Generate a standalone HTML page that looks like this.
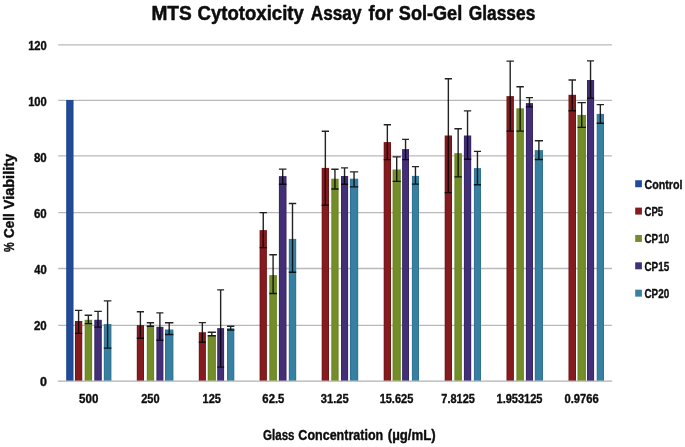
<!DOCTYPE html>
<html lang="en"><head><meta charset="utf-8"><title>MTS Cytotoxicity Assay for Sol-Gel Glasses</title>
<style>html,body{margin:0;padding:0;background:#fff;}body{width:685px;height:447px;overflow:hidden;}svg{display:block;}text{font-family:"Liberation Sans",sans-serif;font-weight:bold;fill:#0d0d0d;stroke:#0d0d0d;stroke-width:0.35px;stroke-linejoin:round;}</style></head><body>
<svg width="685" height="447" viewBox="0 0 685 447">
<rect width="685" height="447" fill="#fff"/>
<defs><linearGradient id="g0" x1="0" x2="1" y1="0" y2="0"><stop offset="0" stop-color="#1a4287"/><stop offset="0.22" stop-color="#214b97"/><stop offset="0.78" stop-color="#214b97"/><stop offset="1" stop-color="#1a4287"/></linearGradient><linearGradient id="g1" x1="0" x2="1" y1="0" y2="0"><stop offset="0" stop-color="#6c1113"/><stop offset="0.22" stop-color="#861b1f"/><stop offset="0.78" stop-color="#861b1f"/><stop offset="1" stop-color="#6c1113"/></linearGradient><linearGradient id="g2" x1="0" x2="1" y1="0" y2="0"><stop offset="0" stop-color="#64801f"/><stop offset="0.22" stop-color="#738e28"/><stop offset="0.78" stop-color="#738e28"/><stop offset="1" stop-color="#64801f"/></linearGradient><linearGradient id="g3" x1="0" x2="1" y1="0" y2="0"><stop offset="0" stop-color="#33225f"/><stop offset="0.22" stop-color="#422f77"/><stop offset="0.78" stop-color="#422f77"/><stop offset="1" stop-color="#33225f"/></linearGradient><linearGradient id="g4" x1="0" x2="1" y1="0" y2="0"><stop offset="0" stop-color="#2f6f8c"/><stop offset="0.22" stop-color="#3780a1"/><stop offset="0.78" stop-color="#3780a1"/><stop offset="1" stop-color="#2f6f8c"/></linearGradient></defs>
<g stroke="#b9b9b9" stroke-width="1.3">
<line x1="58.2" y1="325.40" x2="611.9" y2="325.40"/>
<line x1="58.2" y1="268.50" x2="611.9" y2="268.50"/>
<line x1="58.2" y1="212.60" x2="611.9" y2="212.60"/>
<line x1="58.2" y1="155.90" x2="611.9" y2="155.90"/>
<line x1="58.2" y1="100.30" x2="611.9" y2="100.30"/>
<line x1="58.2" y1="44.80" x2="611.9" y2="44.80"/>
</g>
<line x1="57.800000000000004" y1="381.1" x2="612.1" y2="381.1" stroke="#b2b2b2" stroke-width="1.15"/>
<g fill="url(#g0)">
<rect x="66.20" y="100.00" width="7.30" height="280.60"/>
</g>
<g fill="url(#g1)">
<rect x="74.95" y="321.00" width="7.30" height="59.60"/>
<rect x="136.80" y="325.10" width="7.20" height="55.50"/>
<rect x="198.80" y="332.20" width="7.10" height="48.40"/>
<rect x="259.60" y="230.10" width="7.30" height="150.50"/>
<rect x="321.70" y="167.90" width="7.30" height="212.70"/>
<rect x="383.70" y="142.10" width="7.30" height="238.50"/>
<rect x="444.70" y="135.50" width="7.30" height="245.10"/>
<rect x="506.50" y="96.10" width="7.40" height="284.50"/>
<rect x="568.50" y="94.80" width="7.50" height="285.80"/>
</g>
<g fill="url(#g2)">
<rect x="84.66" y="319.80" width="7.44" height="60.80"/>
<rect x="146.80" y="325.40" width="7.30" height="55.20"/>
<rect x="207.70" y="335.40" width="8.20" height="45.20"/>
<rect x="269.30" y="275.10" width="7.60" height="105.50"/>
<rect x="331.30" y="178.70" width="7.30" height="201.90"/>
<rect x="392.60" y="169.50" width="8.20" height="211.10"/>
<rect x="454.40" y="153.20" width="7.50" height="227.40"/>
<rect x="516.40" y="108.30" width="7.50" height="272.30"/>
<rect x="577.50" y="114.90" width="8.40" height="265.70"/>
</g>
<g fill="url(#g3)">
<rect x="94.30" y="319.80" width="7.50" height="60.80"/>
<rect x="156.40" y="326.80" width="7.00" height="53.80"/>
<rect x="217.20" y="328.10" width="6.90" height="52.50"/>
<rect x="278.90" y="176.10" width="7.60" height="204.50"/>
<rect x="341.00" y="176.00" width="7.10" height="204.60"/>
<rect x="402.10" y="149.10" width="6.90" height="231.50"/>
<rect x="463.90" y="135.50" width="7.30" height="245.10"/>
<rect x="525.90" y="103.10" width="7.10" height="277.50"/>
<rect x="587.00" y="80.00" width="7.10" height="300.60"/>
</g>
<g fill="url(#g4)">
<rect x="103.80" y="324.10" width="7.60" height="56.50"/>
<rect x="165.00" y="329.50" width="8.40" height="51.10"/>
<rect x="227.00" y="328.30" width="7.30" height="52.30"/>
<rect x="288.80" y="238.90" width="7.40" height="141.70"/>
<rect x="349.90" y="178.70" width="8.30" height="201.90"/>
<rect x="411.90" y="175.90" width="7.10" height="204.70"/>
<rect x="473.90" y="168.10" width="7.10" height="212.50"/>
<rect x="534.80" y="150.10" width="8.20" height="230.50"/>
<rect x="596.70" y="113.90" width="7.30" height="266.70"/>
</g>
<g stroke="#050505" stroke-width="1.4" stroke-opacity="0.88" fill="none">
<path d="M78.60 310.40V333.40M74.95 310.40H82.25M74.95 333.40H82.25"/>
<path d="M140.40 311.70V338.20M136.80 311.70H144.00M136.80 338.20H144.00"/>
<path d="M202.35 322.60V342.20M198.80 322.60H205.90M198.80 342.20H205.90"/>
<path d="M263.25 212.60V247.60M259.60 212.60H266.90M259.60 247.60H266.90"/>
<path d="M325.35 131.30V205.20M321.70 131.30H329.00M321.70 205.20H329.00"/>
<path d="M387.35 124.80V159.60M383.70 124.80H391.00M383.70 159.60H391.00"/>
<path d="M448.35 78.70V192.60M444.70 78.70H452.00M444.70 192.60H452.00"/>
<path d="M510.20 61.10V131.10M506.50 61.10H513.90M506.50 131.10H513.90"/>
<path d="M572.25 80.00V110.80M568.50 80.00H576.00M568.50 110.80H576.00"/>
<path d="M88.38 315.30V323.60M84.66 315.30H92.10M84.66 323.60H92.10"/>
<path d="M150.45 322.70V326.30M146.80 322.70H154.10M146.80 326.30H154.10"/>
<path d="M211.80 332.30V335.80M207.70 332.30H215.90M207.70 335.80H215.90"/>
<path d="M273.10 254.70V293.50M269.30 254.70H276.90M269.30 293.50H276.90"/>
<path d="M334.95 169.30V189.00M331.30 169.30H338.60M331.30 189.00H338.60"/>
<path d="M396.70 156.90V181.40M392.60 156.90H400.80M392.60 181.40H400.80"/>
<path d="M458.15 128.70V176.90M454.40 128.70H461.90M454.40 176.90H461.90"/>
<path d="M520.15 86.80V131.10M516.40 86.80H523.90M516.40 131.10H523.90"/>
<path d="M581.70 102.60V127.40M577.50 102.60H585.90M577.50 127.40H585.90"/>
<path d="M98.05 311.40V327.10M94.30 311.40H101.80M94.30 327.10H101.80"/>
<path d="M159.90 312.90V340.30M156.40 312.90H163.40M156.40 340.30H163.40"/>
<path d="M220.65 289.90V367.10M217.20 289.90H224.10M217.20 367.10H224.10"/>
<path d="M282.70 169.10V184.30M278.90 169.10H286.50M278.90 184.30H286.50"/>
<path d="M344.55 167.90V184.30M341.00 167.90H348.10M341.00 184.30H348.10"/>
<path d="M405.55 139.40V159.60M402.10 139.40H409.00M402.10 159.60H409.00"/>
<path d="M467.55 110.90V159.30M463.90 110.90H471.20M463.90 159.30H471.20"/>
<path d="M529.45 97.60V106.90M525.90 97.60H533.00M525.90 106.90H533.00"/>
<path d="M590.55 60.90V98.10M587.00 60.90H594.10M587.00 98.10H594.10"/>
<path d="M107.60 300.90V348.10M103.80 300.90H111.40M103.80 348.10H111.40"/>
<path d="M169.20 322.70V334.50M165.00 322.70H173.40M165.00 334.50H173.40"/>
<path d="M230.65 326.30V330.00M227.00 326.30H234.30M227.00 330.00H234.30"/>
<path d="M292.50 203.50V272.20M288.80 203.50H296.20M288.80 272.20H296.20"/>
<path d="M354.05 171.90V186.90M349.90 171.90H358.20M349.90 186.90H358.20"/>
<path d="M415.45 166.60V184.10M411.90 166.60H419.00M411.90 184.10H419.00"/>
<path d="M477.45 151.40V184.80M473.90 151.40H481.00M473.90 184.80H481.00"/>
<path d="M538.90 140.80V159.50M534.80 140.80H543.00M534.80 159.50H543.00"/>
<path d="M600.35 104.60V123.30M596.70 104.60H604.00M596.70 123.30H604.00"/>
</g>
<text x="39.94" y="385.80" font-size="11.9" textLength="6.96" lengthAdjust="spacingAndGlyphs">0</text>
<text x="33.96" y="329.75" font-size="11.9" textLength="12.77" lengthAdjust="spacingAndGlyphs">20</text>
<text x="34.2" y="273.70" font-size="11.9" textLength="12.52" lengthAdjust="spacingAndGlyphs">40</text>
<text x="33.96" y="217.65" font-size="11.9" textLength="12.77" lengthAdjust="spacingAndGlyphs">60</text>
<text x="33.96" y="161.60" font-size="11.9" textLength="12.77" lengthAdjust="spacingAndGlyphs">80</text>
<text x="28.13" y="105.55" font-size="11.9" textLength="18.69" lengthAdjust="spacingAndGlyphs">100</text>
<text x="28.13" y="49.50" font-size="11.9" textLength="18.69" lengthAdjust="spacingAndGlyphs">120</text>
<text x="79.06" y="403.3" font-size="11.9" textLength="19.28" lengthAdjust="spacingAndGlyphs">500</text>
<text x="141.17" y="403.3" font-size="11.9" textLength="18.35" lengthAdjust="spacingAndGlyphs">250</text>
<text x="202.54" y="403.3" font-size="11.9" textLength="18.35" lengthAdjust="spacingAndGlyphs">125</text>
<text x="262.36" y="403.3" font-size="11.9" textLength="21.99" lengthAdjust="spacingAndGlyphs">62.5</text>
<text x="320.77" y="403.3" font-size="11.9" textLength="27.88" lengthAdjust="spacingAndGlyphs">31.25</text>
<text x="379.64" y="403.3" font-size="11.9" textLength="33.68" lengthAdjust="spacingAndGlyphs">15.625</text>
<text x="441.37" y="403.3" font-size="11.9" textLength="33.44" lengthAdjust="spacingAndGlyphs">7.8125</text>
<text x="496.54" y="403.3" font-size="11.9" textLength="45.96" lengthAdjust="spacingAndGlyphs">1.953125</text>
<text x="564.47" y="403.3" font-size="11.9" textLength="34.19" lengthAdjust="spacingAndGlyphs">0.9766</text>
<text x="151.39" y="19.5" font-size="19.7" textLength="40.36" lengthAdjust="spacingAndGlyphs" style="stroke-width:0.5px">MTS</text>
<text x="197.49" y="19.5" font-size="19.7" textLength="106.35" lengthAdjust="spacingAndGlyphs" style="stroke-width:0.5px">Cytotoxicity</text>
<text x="310.78" y="19.5" font-size="19.7" textLength="50.73" lengthAdjust="spacingAndGlyphs" style="stroke-width:0.5px">Assay</text>
<text x="368.57" y="19.5" font-size="19.7" textLength="24.47" lengthAdjust="spacingAndGlyphs" style="stroke-width:0.5px">for</text>
<text x="398.84" y="19.5" font-size="19.7" textLength="63.34" lengthAdjust="spacingAndGlyphs" style="stroke-width:0.5px">Sol-Gel</text>
<text x="468.74" y="19.5" font-size="19.7" textLength="66.55" lengthAdjust="spacingAndGlyphs" style="stroke-width:0.5px">Glasses</text>
<text x="263.1" y="440.1" font-size="14.3" textLength="31.37" lengthAdjust="spacingAndGlyphs" style="stroke-width:0.4px">Glass</text>
<text x="298.36" y="440.1" font-size="14.3" textLength="84.81" lengthAdjust="spacingAndGlyphs" style="stroke-width:0.4px">Concentration</text>
<text x="387.74" y="440.1" font-size="14.3" textLength="47.98" lengthAdjust="spacingAndGlyphs" style="stroke-width:0.4px">(µg/mL)</text>
<g transform="translate(13.5,0) rotate(-90)">
<text x="-251.89" y="0" font-size="14.0" textLength="9.55" lengthAdjust="spacingAndGlyphs" style="stroke-width:0.4px">%</text>
<text x="-237.98" y="0" font-size="14.0" textLength="24.68" lengthAdjust="spacingAndGlyphs" style="stroke-width:0.4px">Cell</text>
<text x="-209.2" y="0" font-size="14.0" textLength="55.24" lengthAdjust="spacingAndGlyphs" style="stroke-width:0.4px">Viability</text>
</g>
<rect x="635.2" y="180.25" width="6.7" height="7" fill="#214b97"/>
<text x="644.48" y="188.70" font-size="12.0" textLength="37.91" lengthAdjust="spacingAndGlyphs">Control</text>
<rect x="635.2" y="207.60" width="6.7" height="7" fill="#861b1f"/>
<text x="644.5" y="216.05" font-size="12.0" textLength="18.67" lengthAdjust="spacingAndGlyphs">CP5</text>
<rect x="635.2" y="234.95" width="6.7" height="7" fill="#738e28"/>
<text x="644.49" y="243.40" font-size="12.0" textLength="24.64" lengthAdjust="spacingAndGlyphs">CP10</text>
<rect x="635.2" y="262.30" width="6.7" height="7" fill="#422f77"/>
<text x="644.49" y="270.75" font-size="12.0" textLength="24.64" lengthAdjust="spacingAndGlyphs">CP15</text>
<rect x="635.2" y="289.65" width="6.7" height="7" fill="#3780a1"/>
<text x="644.49" y="298.10" font-size="12.0" textLength="24.64" lengthAdjust="spacingAndGlyphs">CP20</text>
</svg></body></html>
